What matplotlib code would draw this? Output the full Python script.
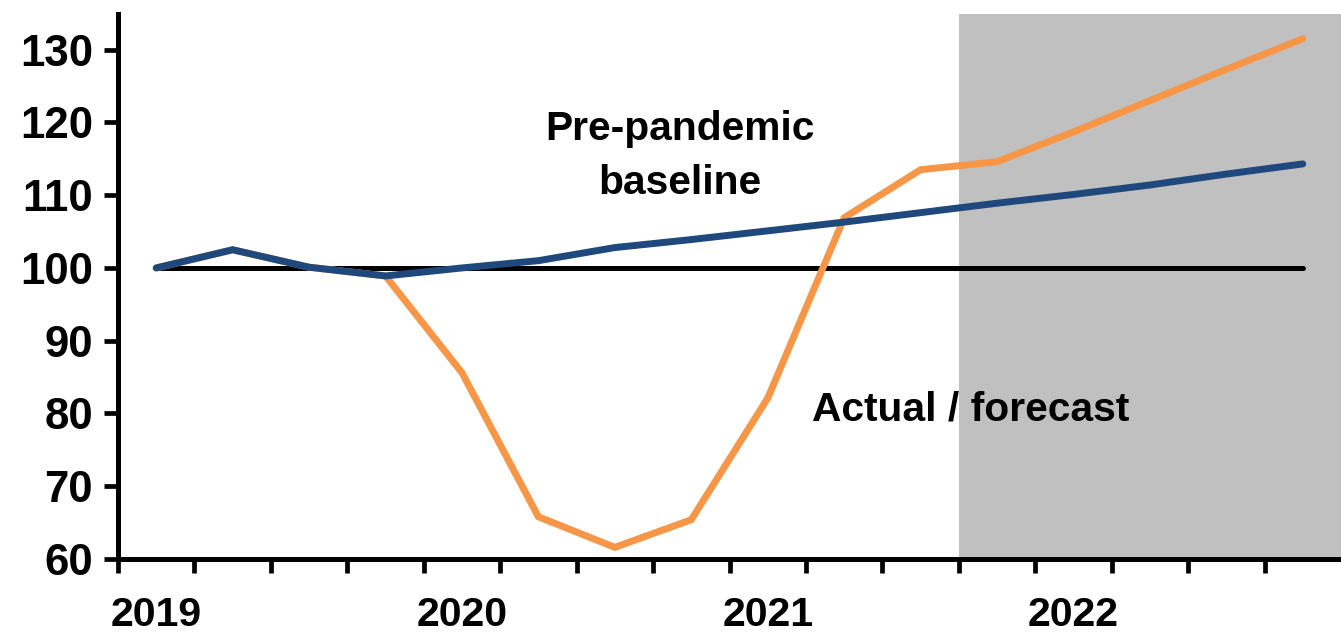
import matplotlib
matplotlib.use("Agg")
import matplotlib.pyplot as plt
import numpy as np

plt.rcParams['font.family'] = ['Liberation Sans', 'DejaVu Sans']
plt.rcParams['font.weight'] = 'bold'

quarters = ["2019Q1", "2019Q2", "2019Q3", "2019Q4",
            "2020Q1", "2020Q2", "2020Q3", "2020Q4",
            "2021Q1", "2021Q2", "2021Q3", "2021Q4",
            "2022Q1", "2022Q2", "2022Q3", "2022Q4"]
baseline = [100.0, 102.5, 100.1, 98.9, 100.0, 101.0, 102.8, 103.9,
            105.1, 106.3, 107.6, 108.9, 110.1, 111.4, 112.9, 114.3]
actual = [100.0, 102.5, 100.1, 98.9, 85.6, 65.8, 61.6, 65.4,
          82.1, 106.9, 113.5, 114.6, 118.7, 123.0, 127.3, 131.5]
reference = [100.0] * 16
year_labels = ["2019", "2020", "2021", "2022"]
y_ticks = [60, 70, 80, 90, 100, 110, 120, 130]
forecast_start = "2021Q4"

W, H = 1341, 637
fig = plt.figure(figsize=(W / 100, H / 100), dpi=100)
ax = fig.add_axes([118 / W, 1 - 559 / H, (W - 118) / W, (559 - 14) / H])

x = np.arange(len(quarters))
fs_idx = quarters.index(forecast_start)
ax.axvspan(fs_idx - 0.5, len(quarters) - 0.5, color='#C0C0C0', lw=0, zorder=0)

ax.plot(x, reference, color='black', lw=3.6, zorder=2, solid_capstyle='round')
ax.plot(x, actual, color='#F79646', lw=5.0, zorder=3, solid_capstyle='round',
        solid_joinstyle='miter')
ax.plot(x, baseline, color='#1F497D', lw=5.0, zorder=4, solid_capstyle='round',
        solid_joinstyle='miter')

ax.set_xlim(-0.5, len(quarters) - 0.5)
ax.set_ylim(60, 134.9)

for s in ['top', 'right']:
    ax.spines[s].set_visible(False)
for s in ['left', 'bottom']:
    ax.spines[s].set_linewidth(3.6)
    ax.spines[s].set_color('black')

ax.set_yticks(y_ticks)
ax.set_yticklabels([str(v) for v in y_ticks])
ax.tick_params(axis='y', direction='out', length=10, width=3.4, pad=8,
               labelsize=31.5, colors='black')

ax.set_xticks(np.arange(-0.5, len(quarters) - 0.5, 1.0))
ax.set_xticklabels([])
ax.tick_params(axis='x', which='major', direction='out', length=10, width=3.4)
ax.set_xticks([quarters.index(y + "Q1") for y in year_labels], minor=True)
ax.set_xticklabels(year_labels, minor=True)
ax.tick_params(axis='x', which='minor', length=0, pad=27, labelsize=29.5)

ax.text(6.85, 115.4, "Pre-pandemic\nbaseline", ha='center', va='center',
        fontsize=29.3, fontweight='bold', linespacing=1.55, zorder=5)
ax.text(10.65, 80.5, "Actual / forecast", ha='center', va='center',
        fontsize=29.3, fontweight='bold', zorder=5)

fig.savefig("out.png", dpi=100)
